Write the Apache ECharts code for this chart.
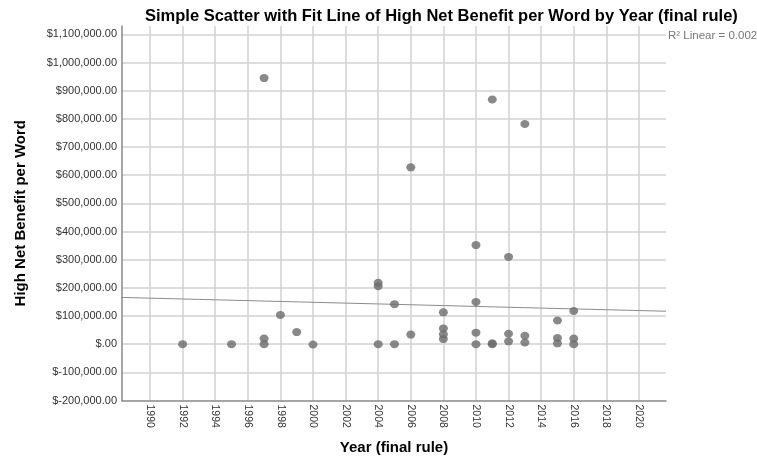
<!DOCTYPE html>
<html>
<head>
<meta charset="utf-8">
<script src="https://cdn.jsdelivr.net/npm/echarts@6/dist/echarts.min.js"></script>
<style>
  html, body { margin: 0; padding: 0; background: #fff; }
  #chart { width: 757px; height: 462px; }
</style>
</head>
<body>
<div id="chart"></div>
<script>
// High net benefit per word of each final rule, by year
const years = [1992, 1995, 1997, 1997, 1997, 1998, 1999, 2000,
  2004, 2004, 2004, 2005, 2005, 2006, 2006,
  2008, 2008, 2008, 2008, 2010, 2010, 2010, 2010,
  2011, 2011, 2011, 2012, 2012, 2012, 2013, 2013, 2013,
  2015, 2015, 2015, 2016, 2016, 2016];
const values = [0, 0, 20000, 0, 945000, 104000, 43000, -1000,
  218000, 206000, 0, 142000, 0, 34000, 628000,
  113000, 56000, 35000, 18000, 352000, 150000, 41000, 0,
  869000, 3000, 0, 310000, 37000, 10000, 782000, 30000, 6000,
  84000, 22000, 3000, 118000, 20000, 0];

// Linear fit line, evaluated at the ends of the year axis
const fitYears = [1988.28, 2021.66];
const fitValues = [166000, 117000];

// Axis ranges and ticks
const yearRange = [1988.28, 2021.66];
const yearTicks = [1990, 1992, 1994, 1996, 1998, 2000, 2002, 2004,
  2006, 2008, 2010, 2012, 2014, 2016, 2018, 2020];
const valueRange = [-200000, 1130000];
const valueStep = 100000;

const fitLabel = 'R\u00B2 Linear = 0.002';

function dollars(v) {
  if (v === 0) return '$.00';
  const s = Math.abs(v).toString().replace(/\B(?=(\d{3})+(?!\d))/g, ',');
  return '$' + (v < 0 ? '-' : '') + s + '.00';
}

const font = '"Liberation Sans", Arial, sans-serif';
const chart = echarts.init(document.getElementById('chart'), null, { renderer: 'canvas' });

chart.setOption({
  animation: false,
  backgroundColor: '#ffffff',
  textStyle: { fontFamily: font },
  title: {
    text: 'Simple Scatter with Fit Line of High Net Benefit per Word by Year (final rule)',
    left: 140,
    top: 3,
    textStyle: { fontFamily: font, fontSize: 16.5, fontWeight: 'bold', color: '#000' }
  },
  graphic: [{
    type: 'text',
    left: 668,
    top: 30,
    style: { text: fitLabel, font: '11.5px ' + font, fill: '#777' }
  }],
  grid: { left: 122, right: 91, top: 26, bottom: 61.5, containLabel: false },
  xAxis: {
    type: 'value',
    min: yearRange[0],
    max: yearRange[1],
    name: 'Year (final rule)',
    nameLocation: 'middle',
    nameGap: 40,
    nameTextStyle: { fontFamily: font, fontSize: 15, fontWeight: 'bold', color: '#000' },
    axisLine: { show: true, onZero: false, lineStyle: { color: '#888', width: 1.5 } },
    axisTick: { show: false, customValues: yearTicks },
    axisLabel: {
      rotate: -90,
      margin: 4,
      fontSize: 10.5,
      color: '#333',
      customValues: yearTicks,
      formatter: v => String(v)
    },
    splitLine: { show: true, lineStyle: { color: '#d2d2d2', width: 1.5 } }
  },
  yAxis: {
    type: 'value',
    min: valueRange[0],
    max: valueRange[1],
    interval: valueStep,
    name: 'High Net Benefit per Word',
    nameLocation: 'middle',
    nameGap: 94,
    nameTextStyle: { fontFamily: font, fontSize: 15, fontWeight: 'bold', color: '#000' },
    axisLine: { show: true, onZero: false, lineStyle: { color: '#888', width: 1.5 } },
    axisTick: { show: false },
    axisLabel: {
      margin: 5,
      fontSize: 11,
      color: '#333',
      showMaxLabel: false,
      formatter: v => (v % valueStep === 0) ? dollars(v) : ''
    },
    splitLine: { show: true, showMinLine: false, showMaxLine: false, lineStyle: { color: '#d2d2d2', width: 1.5 } }
  },
  series: [
    {
      type: 'line',
      data: fitYears.map((y, i) => [y, fitValues[i]]),
      symbol: 'none',
      lineStyle: { color: '#8c8c8c', width: 1 },
      silent: true,
      z: 2
    },
    {
      type: 'scatter',
      data: years.map((y, i) => [y, values[i]]),
      symbol: 'circle',
      symbolSize: [9, 8],
      itemStyle: { color: '#6b6b6b' },
      z: 3
    }
  ]
});
</script>
</body>
</html>
